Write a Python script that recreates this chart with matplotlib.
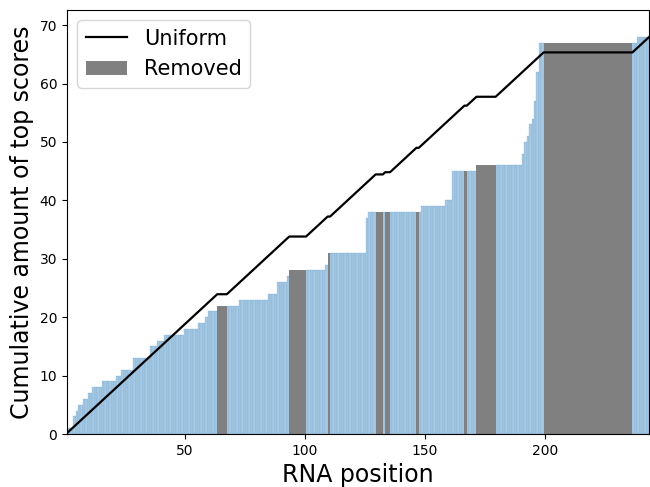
import numpy as np
import matplotlib
matplotlib.use('Agg')
import matplotlib.pyplot as plt

# cumulative amount of top scores, stored as runs along the RNA
run_values = [0, 1, 3, 4, 5, 6, 7, 8, 9, 10, 11, 13, 15, 16, 17, 18, 19, 20, 21,
              22, 23, 24, 26, 27, 28, 29, 31, 37, 38, 39, 40, 45, 46,
              48, 50, 51, 53, 54, 57, 62, 67, 68]
run_lengths = [1, 2, 1, 1, 2, 2, 2, 4, 6, 2, 5, 7, 3, 3, 8, 6, 3, 1, 4,
               9, 12, 4, 4, 1, 15, 1, 16, 1, 22, 10, 3, 10, 19,
               1, 1, 1, 1, 1, 1, 1, 41, 5]

# removed stretches (first, last position)
removed_ranges = [(64, 67), (94, 100), (110, 110), (130, 132), (134, 135),
                  (147, 147), (167, 167), (172, 179), (200, 236)]

cum = np.repeat(run_values, run_lengths)
N = len(cum)
pos = np.arange(1, N + 1)

removed = np.zeros(N, dtype=bool)
for a, b in removed_ranges:
    removed[a - 1:b] = True
kept = ~removed

# uniform spread of the total over the kept positions
step = cum[-1] / kept.sum()
uniform = np.concatenate([[0], np.cumsum(kept * step)])
x_uni = np.arange(0.5, N + 1)

fig = plt.figure(figsize=(6.5, 4.87), dpi=100)
ax = fig.add_axes([67/650, 53/487, 582/650, 424/487])

ax.bar(pos[kept], cum[kept], width=1, color='#a6cae3',
       edgecolor='#5d9acb', linewidth=0.15)
ax.bar(pos[removed], cum[removed], width=1, color='gray', label='Removed')
ax.plot(x_uni, uniform, color='black', linewidth=1.6, label='Uniform')

ax.set_xlim(0.9, 243.4)
ax.set_ylim(0, 72.6)
ax.set_xticks([50, 100, 150, 200])
ax.set_xlabel('RNA position', fontsize=17)
ax.set_ylabel('Cumulative amount of top scores', fontsize=17)
ax.legend(loc='upper left', fontsize=15)

plt.savefig('out.png', dpi=100)
